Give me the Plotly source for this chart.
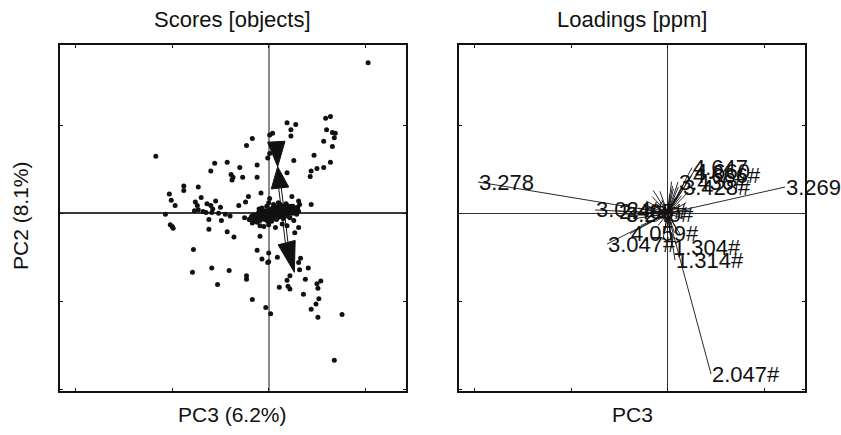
import plotly.graph_objects as go

# ---------------- data ----------------
score_x = [1.03, 0.59, 0.64, 0.19, 0.28, 0.23, 0.23, 0.60, 0.66, 0.69, 0.68, 0.57, 0.66, 0.01, 0.04,
           -0.17, -0.23, 0.01, -0.01, 0.26, 0.47, -1.17, -0.56, -0.43, -0.60, -0.30, -0.12, 0.19, 0.50,
           0.57, 0.44, 0.43, 0.64, -0.39, -0.37, -0.38, -0.27, -0.12, -0.88, -0.88, -0.73, -1.03, -1.01,
           -0.97, -0.70, -0.08, -0.21, -0.24, -0.31, 0.01, 0.24, 0.31, 0.32, 0.44, -0.76, -0.74, -0.64,
           -0.55, -0.60, -0.58, -0.50, -0.77, -0.73, -0.68, -0.65, -0.59, -0.52, -0.45, -0.40, -1.07,
           -0.25, -0.20, -0.17, -1.02, -1.00, -0.99, -0.62, -0.49, -0.62, -0.43, -0.36, -0.09, -0.17,
           0.26, 0.31, 0.27, 0.19, -0.09, -0.12, 0.00, -0.07, 0.00, -0.01, 0.09, -0.78, -0.79, -0.59,
           -0.41, -0.53, -0.23, -0.23, -0.17, -0.03, 0.02, 0.11, 0.19, 0.22, 0.20, 0.22, 0.31, 0.33,
           0.32, 0.41, 0.38, 0.36, 0.50, 0.54, 0.51, 0.52, 0.49, 0.44, 0.51, 0.76, 0.68,
           # dense cluster near origin
           -0.20, -0.18, -0.16, -0.15, -0.13, -0.12, -0.11, -0.10, -0.09, -0.08, -0.07, -0.06, -0.05,
           -0.04, -0.03, -0.02, -0.01, 0.00, 0.01, 0.02, 0.03, 0.04, 0.05, 0.06, 0.07, 0.08, 0.09, 0.10,
           0.11, 0.12, 0.13, 0.14, 0.15, 0.16, 0.17, 0.18, 0.19, 0.20, 0.21, 0.22, 0.23, 0.24, 0.25, 0.26,
           0.27, 0.28, 0.29, 0.30, 0.05, 0.12, -0.02, 0.08, 0.15, -0.07, 0.03, 0.18, 0.22, 0.00, -0.10,
           0.10, 0.14, 0.00, -0.05, 0.07,
           -0.14, -0.10, -0.06, -0.02, 0.02, 0.06, 0.10, 0.14, 0.18, 0.22, 0.26, 0.30,
           -0.12, -0.08, -0.04, 0.00, 0.04, 0.08, 0.12, 0.16, 0.20, 0.24, 0.28,
           -0.09, -0.03, 0.03, 0.09, 0.15, 0.21, 0.27,
           0.06, 0.13, 0.19, 0.25, -0.01, 0.11, 0.17, 0.23, 0.29, 0.31]
score_y = [1.71, 1.08, 1.10, 1.03, 1.01, 0.95, 0.88, 0.95, 0.92, 0.91, 0.86, 0.82, 0.76, 0.89, 0.91,
           0.85, 0.77, 0.68, 0.63, 0.60, 0.66, 0.65, 0.57, 0.58, 0.48, 0.52, 0.55, 0.46, 0.51,
           0.52, 0.48, 0.42, 0.58, 0.44, 0.41, 0.38, 0.41, 0.41, 0.31, 0.26, 0.30, 0.22, 0.15,
           0.09, 0.18, 0.23, 0.19, 0.13, 0.09, 0.17, 0.19, 0.14, 0.10, 0.10, 0.13, 0.09, 0.11,
           0.14, 0.09, 0.05, 0.07, 0.03, 0.04, 0.02, 0.01, 0.01, 0.00, -0.01, -0.03, -0.01,
           -0.05, -0.07, -0.11, -0.13, -0.15, -0.17, -0.07, -0.08, -0.18, -0.21, -0.27, -0.14, -0.03,
           -0.08, -0.16, -0.22, -0.14, -0.26, -0.42, -0.45, -0.52, -0.55, -0.56, -0.50, -0.41, -0.67, -0.62,
           -0.65, -0.81, -0.71, -0.75, -0.98, -1.07, -1.14, -0.84, -0.76, -0.71, -0.83, -0.86, -0.56, -0.51,
           -0.64, -0.62, -0.75, -0.92, -0.80, -0.77, -0.85, -0.97, -1.03, -1.09, -1.18, -1.15, -1.67,
           -0.07, -0.04, -0.09, -0.02, -0.06, -0.10, 0.00, -0.04, -0.08, -0.02, 0.02, -0.05, -0.01,
           -0.07, 0.03, -0.03, 0.01, -0.05, 0.04, -0.01, 0.02, -0.04, 0.05, 0.00, -0.03, 0.03, 0.07, 0.00,
           -0.04, 0.04, 0.01, 0.08, -0.02, 0.04, 0.01, 0.06, -0.03, 0.03, 0.07, 0.00, 0.05, 0.02, 0.08, 0.04,
           0.01, 0.06, 0.03, 0.07, 0.10, 0.10, 0.08, -0.07, -0.06, 0.06, -0.09, 0.11, -0.05, 0.12, 0.05,
           0.12, -0.12, -0.13, -0.15, -0.16,
           -0.05, -0.03, -0.06, 0.00, -0.02, 0.02, 0.05, 0.03, 0.02, 0.05, 0.06, 0.04,
           -0.08, -0.06, 0.01, 0.03, 0.06, 0.01, -0.01, 0.07, 0.00, 0.03, 0.02,
           0.00, -0.01, -0.06, -0.05, 0.00, 0.06, 0.05,
           0.08, 0.06, 0.09, 0.00, -0.09, 0.09, -0.01, 0.08, -0.01, 0.02]

# arrows drawn in the scores plot (tail, arrow-head base, tip)
arrow_tail_x = [0.141, 0.155]
arrow_tail_y = [0.076, -0.038]
arrow_base_x = [0.117, 0.186]
arrow_base_y = [0.288, -0.333]
arrow_tip_x = [0.093, 0.266]
arrow_tip_y = [0.530, -0.670]
# reversed head sitting on the first arrow
back_base_x = [0.079]
back_base_y = [0.814]
back_tip_x = [0.093]
back_tip_y = [0.530]

# loadings with labels
load_labels = ["3.278", "3.269", "2.047#", "3.047#", "4.059#", "1.304#", "1.314#", "3.428#",
               "4.647", "4.666#", "4.660", "3.436#", "3.024#", "2.405#", "3.240#"]
load_x = [-0.1966, 0.1216, 0.0449, -0.0629, -0.0391, 0.0045, 0.0076, 0.0148,
          0.0252, 0.0252, 0.0273, 0.0107, -0.0753, -0.0515, -0.0442]
load_y = [0.0356, 0.0299, -0.1826, -0.0349, -0.0230, -0.0390, -0.0533, 0.0288,
          0.0520, 0.0435, 0.0481, 0.0356, 0.0038, 0.0026, -0.0008]
# short, unlabeled loadings crowding the origin
star_x = [0.012, 0.008, -0.006, -0.014, -0.020, 0.004, 0.016, -0.010, 0.002, -0.003, 0.010, -0.018,
          -0.025, 0.006, 0.014, -0.008, 0.000, 0.019, -0.012, 0.003, -0.030, -0.022, 0.009, 0.005,
          -0.004, 0.011, -0.016, 0.007, 0.001, -0.009, -0.034, -0.028, 0.021, 0.017, -0.005, 0.013,
          -0.015, 0.004, 0.024, -0.021]
star_y = [0.010, 0.018, 0.015, 0.008, 0.004, -0.012, -0.006, -0.014, 0.022, -0.020, 0.003, -0.004,
          0.010, 0.028, 0.020, 0.025, -0.016, 0.012, -0.009, -0.026, 0.006, 0.014, -0.018, 0.031,
          0.009, 0.030, 0.019, -0.022, 0.012, 0.002, -0.006, -0.014, 0.024, 0.034, -0.030, -0.024,
          0.026, 0.036, 0.004, -0.011]

tick_vals_scores = [-2, -1, 0, 1]
tick_vals_load = [-0.2, -0.1, 0, 0.1]

# ---------------- layout constants ----------------
W, H = 841, 435
SX_RANGE = [-2.163, 1.423]
SY_RANGE = [-2.019, 1.913]
LX_RANGE = [-0.2163, 0.1423]
LY_RANGE = [-0.2019, 0.1913]
PLOT_PX = 346.0
sx = PLOT_PX / (SX_RANGE[1] - SX_RANGE[0])
sy = PLOT_PX / (SY_RANGE[1] - SY_RANGE[0])
FONT = "Liberation Sans, Arial, Helvetica, sans-serif"


def to_px(x, y):
    return x * sx, y * sy


def to_data(px, py):
    return px / sx, py / sy


def triangle(bx, by, tx, ty, half_w):
    pbx, pby = to_px(bx, by)
    ptx, pty = to_px(tx, ty)
    dx, dy = ptx - pbx, pty - pby
    L = (dx * dx + dy * dy) ** 0.5
    nx, ny = -dy / L, dx / L
    c1 = to_data(pbx + nx * half_w, pby + ny * half_w)
    c2 = to_data(pbx - nx * half_w, pby - ny * half_w)
    return [c1[0], tx, c2[0], c1[0]], [c1[1], ty, c2[1], c1[1]]


def shaft(ax, ay, bx, by, off):
    pax, pay = to_px(ax, ay)
    pbx, pby = to_px(bx, by)
    dx, dy = pbx - pax, pby - pay
    L = (dx * dx + dy * dy) ** 0.5
    nx, ny = -dy / L * off, dx / L * off
    xs, ys = [], []
    for s in (1, -1):
        p1 = to_data(pax + s * nx, pay + s * ny)
        p2 = to_data(pbx + s * nx, pby + s * ny)
        xs += [p1[0], p2[0], None]
        ys += [p1[1], p2[1], None]
    return xs, ys


fig = go.Figure()

fig.add_trace(go.Scatter(x=score_x, y=score_y, mode="markers",
                         marker=dict(size=5, color="#111111"),
                         xaxis="x", yaxis="y", showlegend=False, hoverinfo="skip"))

# arrows
for i in range(len(arrow_tip_x)):
    xs, ys = shaft(arrow_tail_x[i], arrow_tail_y[i], arrow_base_x[i], arrow_base_y[i], 1.3)
    fig.add_trace(go.Scatter(x=xs, y=ys, mode="lines", line=dict(color="#111111", width=1),
                             xaxis="x", yaxis="y", showlegend=False, hoverinfo="skip"))
    tx, ty = triangle(arrow_base_x[i], arrow_base_y[i], arrow_tip_x[i], arrow_tip_y[i], 8.8)
    fig.add_trace(go.Scatter(x=tx, y=ty, mode="lines", fill="toself", fillcolor="#111111",
                             line=dict(color="#111111", width=1),
                             xaxis="x", yaxis="y", showlegend=False, hoverinfo="skip"))
for i in range(len(back_tip_x)):
    tx, ty = triangle(back_base_x[i], back_base_y[i], back_tip_x[i], back_tip_y[i], 8.7)
    fig.add_trace(go.Scatter(x=tx, y=ty, mode="lines", fill="toself", fillcolor="#111111",
                             line=dict(color="#111111", width=1),
                             xaxis="x", yaxis="y", showlegend=False, hoverinfo="skip"))

# loadings lines
lx, ly = [], []
for a, b in zip(load_x + star_x, load_y + star_y):
    lx += [0, a, None]
    ly += [0, b, None]
fig.add_trace(go.Scatter(x=lx, y=ly, mode="lines", line=dict(color="#111111", width=0.9),
                         xaxis="x2", yaxis="y2", showlegend=False, hoverinfo="skip"))

annotations = []
for t, a, b in zip(load_labels, load_x, load_y):
    annotations.append(dict(x=a, y=b, xref="x2", yref="y2", text=t, showarrow=False,
                            xanchor="left", yanchor="middle", borderpad=0,
                            font=dict(family=FONT, size=22, color="#111111")))

left_c = (60 + 406) / 2 / W
right_c = (459 + 805) / 2 / W
annotations += [
    dict(x=left_c, y=1 - 20 / H, xref="paper", yref="paper", text="Scores [objects]",
         showarrow=False, xanchor="center", yanchor="middle",
         font=dict(family=FONT, size=22, color="#111111")),
    dict(x=right_c, y=1 - 20 / H, xref="paper", yref="paper", text="Loadings [ppm]",
         showarrow=False, xanchor="center", yanchor="middle",
         font=dict(family=FONT, size=22, color="#111111")),
    dict(x=left_c, y=1 - 414 / H, xref="paper", yref="paper", text="PC3 (6.2%)",
         showarrow=False, xanchor="center", yanchor="middle",
         font=dict(family=FONT, size=21, color="#111111")),
    dict(x=right_c, y=1 - 414 / H, xref="paper", yref="paper", text="PC3",
         showarrow=False, xanchor="center", yanchor="middle",
         font=dict(family=FONT, size=21, color="#111111")),
    dict(x=20 / W, y=1 - 216 / H, xref="paper", yref="paper", text="PC2 (8.1%)",
         showarrow=False, xanchor="center", yanchor="middle", textangle=-90,
         font=dict(family=FONT, size=21, color="#111111")),
]

ax_common = dict(showgrid=False, showline=True, linecolor="#111111", linewidth=1.5,
                 mirror="ticks", ticks="inside", ticklen=3, tickcolor="#111111", tickwidth=1,
                 showticklabels=False, zeroline=True)
yb, yt = (H - 391) / H, (H - 45) / H

fig.update_layout(
    width=W, height=H, margin=dict(l=0, r=0, t=0, b=0),
    paper_bgcolor="white", plot_bgcolor="white",
    xaxis=dict(domain=[60 / W, 406 / W], range=SX_RANGE, tickvals=tick_vals_scores,
               zerolinecolor="#8a8a8a", zerolinewidth=1.5, anchor="y", **ax_common),
    yaxis=dict(domain=[yb, yt], range=SY_RANGE, tickvals=tick_vals_scores,
               zerolinecolor="#3a3a3a", zerolinewidth=1.5, anchor="x", **ax_common),
    xaxis2=dict(domain=[459 / W, 805 / W], range=LX_RANGE, tickvals=tick_vals_load,
                zerolinecolor="#333333", zerolinewidth=1, anchor="y2", **ax_common),
    yaxis2=dict(domain=[yb, yt], range=LY_RANGE, tickvals=tick_vals_load,
                zerolinecolor="#333333", zerolinewidth=1, anchor="x2", **ax_common),
    annotations=annotations,
    font=dict(family=FONT),
)

fig.write_html("out.html")
